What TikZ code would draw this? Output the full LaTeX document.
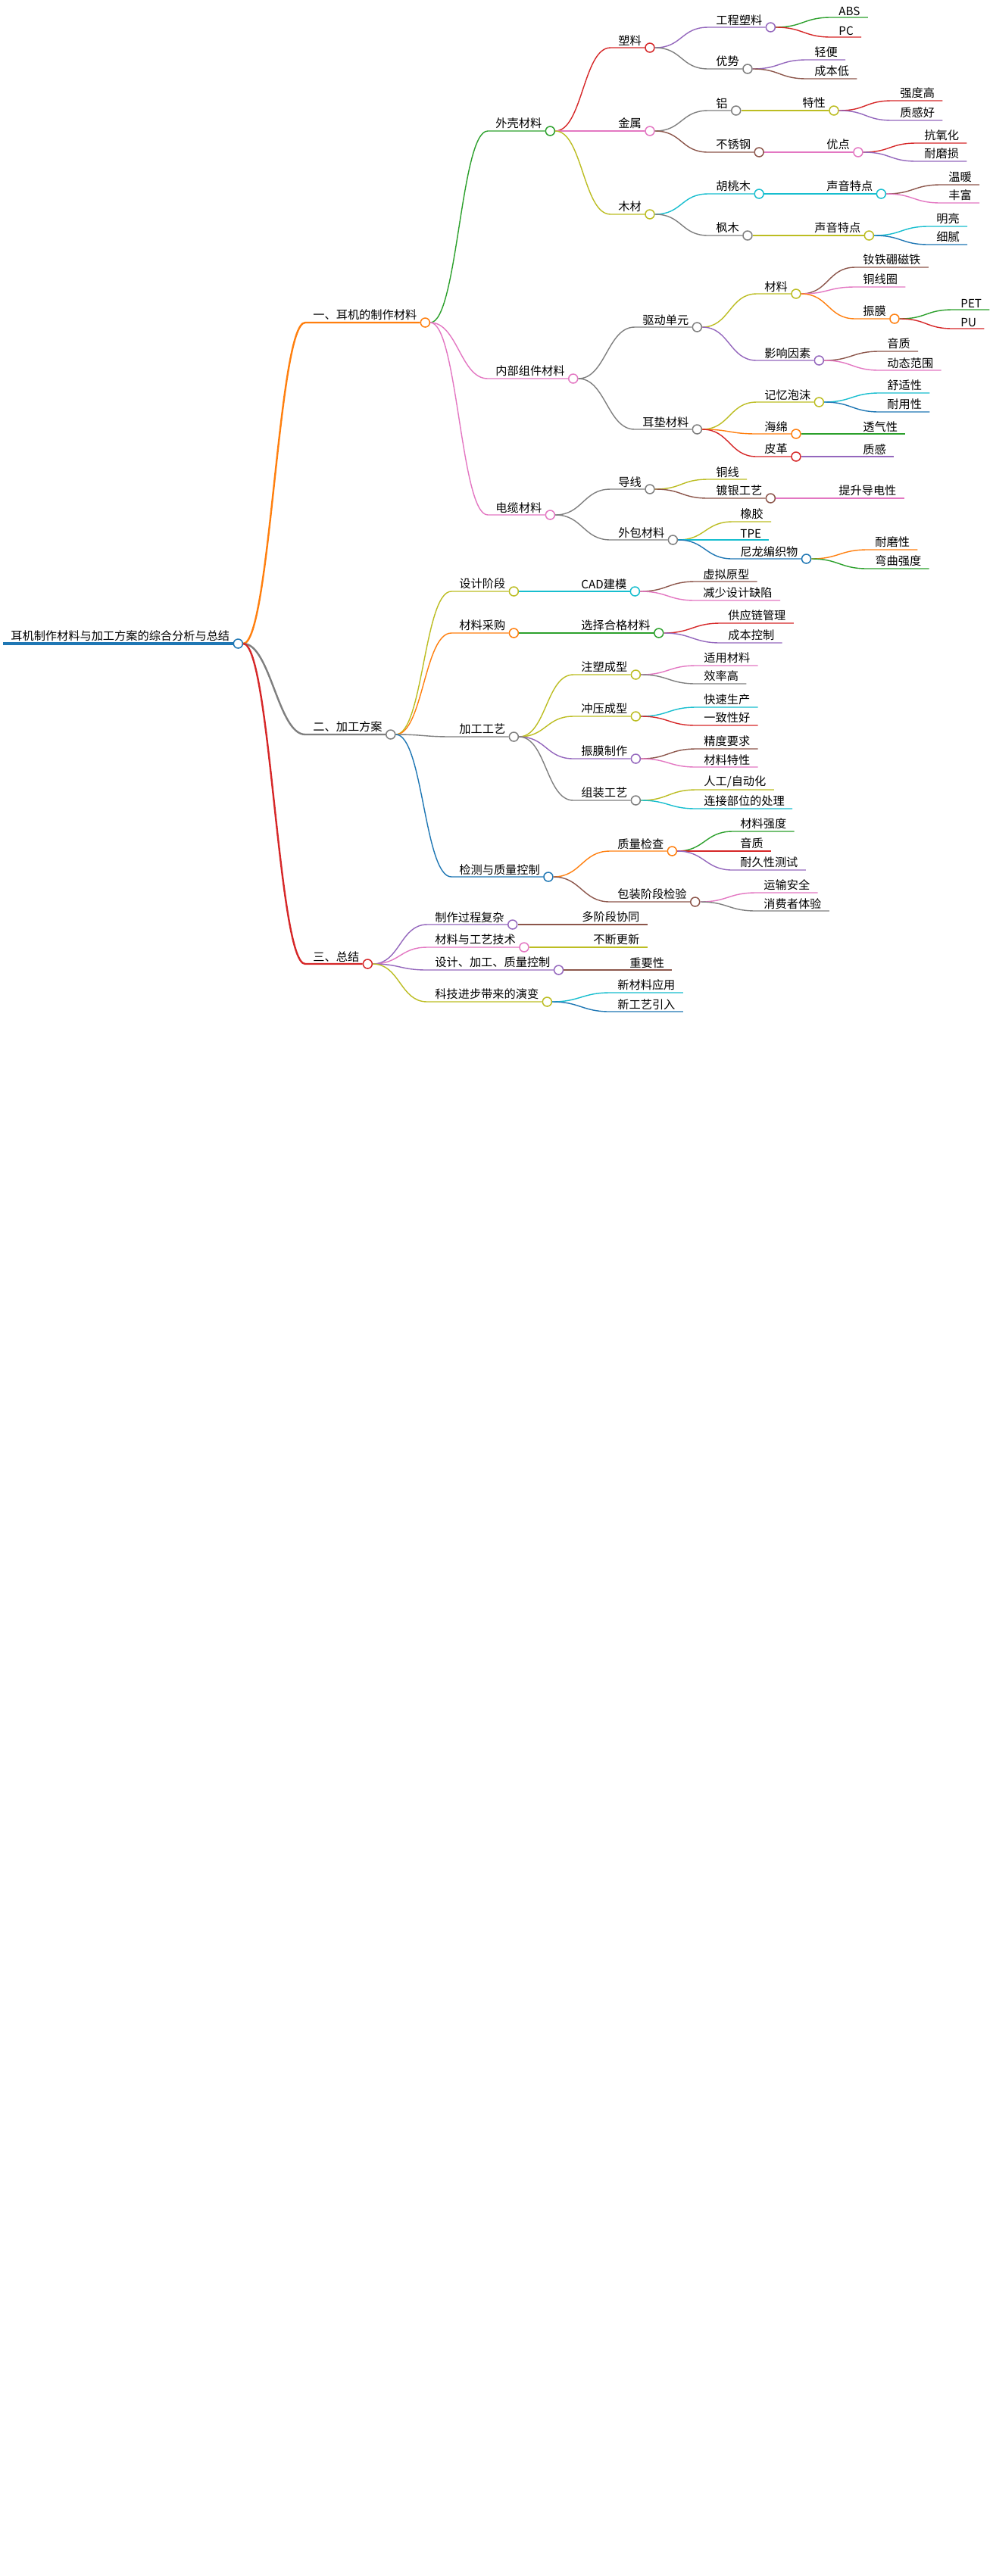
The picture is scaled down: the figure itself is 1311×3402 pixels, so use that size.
\documentclass[tikz,border=0pt]{standalone}
\usepackage{fontspec}
\setmainfont{Noto Sans CJK SC}
\usepackage{tikz}
\usetikzlibrary{positioning}

\definecolor{cblue}{HTML}{1F77B4}
\definecolor{corange}{HTML}{FF7F0E}
\definecolor{cgreen}{HTML}{2CA02C}
\definecolor{cred}{HTML}{D62728}
\definecolor{cpurple}{HTML}{9467BD}
\definecolor{cbrown}{HTML}{8C564B}
\definecolor{cpink}{HTML}{E377C2}
\definecolor{cgray}{HTML}{7F7F7F}
\definecolor{colive}{HTML}{BCBD22}
\definecolor{ccyan}{HTML}{17BECF}

\tikzset{
  txt/.style={anchor=south west, inner xsep=5pt, inner ysep=1.2pt, font=\fontsize{7.6pt}{9pt}\selectfont},
  knob/.style={circle, draw=#1, fill=white, line width=0.75pt, minimum size=6pt, inner sep=0pt},
  lk/.style={draw=#1, line width=0.7pt},
  lkone/.style={draw=#1, line width=1.2pt},
  mmlink/.style={to path={.. controls +(36,0) and +(-36,0) .. (\tikztotarget)}}
}

\begin{document}
\begin{tikzpicture}[x=0.5pt, y=-0.5pt]
				\fill[white] (0,0) rectangle (1311,3402);
				\useasboundingbox (0,0) rectangle (1311,3402);

				% root
				\node[txt] (r) at (4,850) {耳机制作材料与加工方案的综合分析与总结};
				\node[knob=cblue, right=-3pt of r.south east] (ro) {};
				\draw[cblue, line width=2.2pt] (r.south west) -- (ro);

				% main branches
				\node[txt] (m1) at (403,426) {一、耳机的制作材料};
				\node[knob=corange, right=-3pt of m1.south east] (m1o) {};
				\node[txt] (m2) at (403,970) {二、加工方案};
				\node[knob=cgray, right=-3pt of m2.south east] (m2o) {};
				\node[txt] (m3) at (403,1273) {三、总结};
				\node[knob=cred, right=-3pt of m3.south east] (m3o) {};
				\draw[lkone=corange] (ro.east) to[mmlink] (m1.south west) -- (m1o);
				\draw[lkone=cgray] (ro.east) to[mmlink] (m2.south west) -- (m2o);
				\draw[lkone=cred] (ro.east) to[mmlink] (m3.south west) -- (m3o);

				% materials
				\node[txt] (sh) at (644,173) {外壳材料};
				\node[knob=cgreen, right=-3pt of sh.south east] (sho) {};
				\node[txt] (ic) at (644,500) {内部组件材料};
				\node[knob=cpink, right=-3pt of ic.south east] (ico) {};
				\node[txt] (ca) at (644,680) {电缆材料};
				\node[knob=cpink, right=-3pt of ca.south east] (cao) {};
				\draw[lk=cgreen] (m1o.east) to[mmlink] (sh.south west) -- (sho);
				\draw[lk=cpink] (m1o.east) to[mmlink] (ic.south west) -- (ico);
				\draw[lk=cpink] (m1o.east) to[mmlink] (ca.south west) -- (cao);

				% shell
				\node[txt] (pl) at (806,63) {塑料};
				\node[knob=cred, right=-3pt of pl.south east] (plo) {};
				\node[txt] (me) at (806,173) {金属};
				\node[knob=cpink, right=-3pt of me.south east] (meo) {};
				\node[txt] (wd) at (806,283) {木材};
				\node[knob=colive, right=-3pt of wd.south east] (wdo) {};
				\draw[lk=cred] (sho.east) to[mmlink] (pl.south west) -- (plo);
				\draw[lk=cpink] (sho.east) to[mmlink] (me.south west) -- (meo);
				\draw[lk=colive] (sho.east) to[mmlink] (wd.south west) -- (wdo);

				\node[txt] (ep) at (935,36) {工程塑料};
				\node[knob=cpurple, right=-3pt of ep.south east] (epo) {};
				\node[txt] (ad) at (935,91) {优势};
				\node[knob=cgray, right=-3pt of ad.south east] (ado) {};
				\draw[lk=cpurple] (plo.east) to[mmlink] (ep.south west) -- (epo);
				\draw[lk=cgray] (plo.east) to[mmlink] (ad.south west) -- (ado);
				\node[txt] (abs) at (1097,23) {ABS};
				\node[txt] (pc) at (1097,49) {PC};
				\node[txt] (lt) at (1065,79) {轻便};
				\node[txt] (lc) at (1065,104) {成本低};
				\draw[lk=cgreen] (epo.east) to[mmlink] (abs.south west) -- (abs.south east);
				\draw[lk=cred] (epo.east) to[mmlink] (pc.south west) -- (pc.south east);
				\draw[lk=cpurple] (ado.east) to[mmlink] (lt.south west) -- (lt.south east);
				\draw[lk=cbrown] (ado.east) to[mmlink] (lc.south west) -- (lc.south east);

				\node[txt] (al) at (935,146) {铝};
				\node[knob=cgray, right=-3pt of al.south east] (alo) {};
				\node[txt] (alf) at (1049,146) {特性};
				\node[knob=colive, right=-3pt of alf.south east] (alfo) {};
				\node[txt] (alf1) at (1178,133) {强度高};
				\node[txt] (alf2) at (1178,159) {质感好};
				\draw[lk=cgray] (meo.east) to[mmlink] (al.south west) -- (alo);
				\draw[lk=colive] (alo.east) to[mmlink] (alf.south west) -- (alfo);
				\draw[lk=cred] (alfo.east) to[mmlink] (alf1.south west) -- (alf1.south east);
				\draw[lk=cpurple] (alfo.east) to[mmlink] (alf2.south west) -- (alf2.south east);

				\node[txt] (ss) at (935,201) {不锈钢};
				\node[knob=cbrown, right=-3pt of ss.south east] (sso) {};
				\node[txt] (ssf) at (1081,201) {优点};
				\node[knob=cpink, right=-3pt of ssf.south east] (ssfo) {};
				\node[txt] (ssf1) at (1210,189) {抗氧化};
				\node[txt] (ssf2) at (1210,213) {耐磨损};
				\draw[lk=cbrown] (meo.east) to[mmlink] (ss.south west) -- (sso);
				\draw[lk=cpink] (sso.east) to[mmlink] (ssf.south west) -- (ssfo);
				\draw[lk=cred] (ssfo.east) to[mmlink] (ssf1.south west) -- (ssf1.south east);
				\draw[lk=cpurple] (ssfo.east) to[mmlink] (ssf2.south west) -- (ssf2.south east);

				\node[txt] (wn) at (935,256) {胡桃木};
				\node[knob=ccyan, right=-3pt of wn.south east] (wno) {};
				\node[txt] (wns) at (1081,256) {声音特点};
				\node[knob=ccyan, right=-3pt of wns.south east] (wnso) {};
				\node[txt] (wns1) at (1242,244) {温暖};
				\node[txt] (wns2) at (1242,268) {丰富};
				\draw[lk=ccyan] (wdo.east) to[mmlink] (wn.south west) -- (wno);
				\draw[lk=ccyan] (wno.east) to[mmlink] (wns.south west) -- (wnso);
				\draw[lk=cbrown] (wnso.east) to[mmlink] (wns1.south west) -- (wns1.south east);
				\draw[lk=cpink] (wnso.east) to[mmlink] (wns2.south west) -- (wns2.south east);

				\node[txt] (mp) at (935,311) {枫木};
				\node[knob=cgray, right=-3pt of mp.south east] (mpo) {};
				\node[txt] (mps) at (1065,311) {声音特点};
				\node[knob=colive, right=-3pt of mps.south east] (mpso) {};
				\node[txt] (mps1) at (1226,299) {明亮};
				\node[txt] (mps2) at (1226,323) {细腻};
				\draw[lk=cgray] (wdo.east) to[mmlink] (mp.south west) -- (mpo);
				\draw[lk=colive] (mpo.east) to[mmlink] (mps.south west) -- (mpso);
				\draw[lk=ccyan] (mpso.east) to[mmlink] (mps1.south west) -- (mps1.south east);
				\draw[lk=cblue] (mpso.east) to[mmlink] (mps2.south west) -- (mps2.south east);

				% inner parts
				\node[txt] (dr) at (838,432) {驱动单元};
				\node[knob=cgray, right=-3pt of dr.south east] (dro) {};
				\node[txt] (cu) at (838,567) {耳垫材料};
				\node[knob=cgray, right=-3pt of cu.south east] (cuo) {};
				\draw[lk=cgray] (ico.east) to[mmlink] (dr.south west) -- (dro);
				\draw[lk=cgray] (ico.east) to[mmlink] (cu.south west) -- (cuo);

				\node[txt] (drm) at (999,388) {材料};
				\node[knob=colive, right=-3pt of drm.south east] (drmo) {};
				\node[txt] (drf) at (999,476) {影响因素};
				\node[knob=cpurple, right=-3pt of drf.south east] (drfo) {};
				\draw[lk=colive] (dro.east) to[mmlink] (drm.south west) -- (drmo);
				\draw[lk=cpurple] (dro.east) to[mmlink] (drf.south west) -- (drfo);
				\node[txt] (drm1) at (1129,353) {钕铁硼磁铁};
				\node[txt] (drm2) at (1129,379) {铜线圈};
				\node[txt] (dia) at (1129,421) {振膜};
				\node[knob=corange, right=-3pt of dia.south east] (diao) {};
				\draw[lk=cbrown] (drmo.east) to[mmlink] (drm1.south west) -- (drm1.south east);
				\draw[lk=cpink] (drmo.east) to[mmlink] (drm2.south west) -- (drm2.south east);
				\draw[lk=corange] (drmo.east) to[mmlink] (dia.south west) -- (diao);
				\node[txt] (dia1) at (1258,409) {PET};
				\node[txt] (dia2) at (1258,434) {PU};
				\draw[lk=cgreen] (diao.east) to[mmlink] (dia1.south west) -- (dia1.south east);
				\draw[lk=cred] (diao.east) to[mmlink] (dia2.south west) -- (dia2.south east);
				\node[txt] (drf1) at (1161,464) {音质};
				\node[txt] (drf2) at (1161,489) {动态范围};
				\draw[lk=cbrown] (drfo.east) to[mmlink] (drf1.south west) -- (drf1.south east);
				\draw[lk=cpink] (drfo.east) to[mmlink] (drf2.south west) -- (drf2.south east);

				\node[txt] (cu1) at (999,531) {记忆泡沫};
				\node[knob=colive, right=-3pt of cu1.south east] (cu1o) {};
				\node[txt] (cu2) at (999,573) {海绵};
				\node[knob=corange, right=-3pt of cu2.south east] (cu2o) {};
				\node[txt] (cu3) at (999,603) {皮革};
				\node[knob=cred, right=-3pt of cu3.south east] (cu3o) {};
				\draw[lk=colive] (cuo.east) to[mmlink] (cu1.south west) -- (cu1o);
				\draw[lk=corange] (cuo.east) to[mmlink] (cu2.south west) -- (cu2o);
				\draw[lk=cred] (cuo.east) to[mmlink] (cu3.south west) -- (cu3o);
				\node[txt] (cu1a) at (1161,519) {舒适性};
				\node[txt] (cu1b) at (1161,544) {耐用性};
				\node[txt] (cu2a) at (1129,573) {透气性};
				\node[txt] (cu3a) at (1129,603) {质感};
				\draw[lk=ccyan] (cu1o.east) to[mmlink] (cu1a.south west) -- (cu1a.south east);
				\draw[lk=cblue] (cu1o.east) to[mmlink] (cu1b.south west) -- (cu1b.south east);
				\draw[lk=cgreen] (cu2o.east) to[mmlink] (cu2a.south west) -- (cu2a.south east);
				\draw[lk=cpurple] (cu3o.east) to[mmlink] (cu3a.south west) -- (cu3a.south east);

				% cable
				\node[txt] (wi) at (806,646) {导线};
				\node[knob=cgray, right=-3pt of wi.south east] (wio) {};
				\node[txt] (jk) at (806,713) {外包材料};
				\node[knob=cgray, right=-3pt of jk.south east] (jko) {};
				\draw[lk=cgray] (cao.east) to[mmlink] (wi.south west) -- (wio);
				\draw[lk=cgray] (cao.east) to[mmlink] (jk.south west) -- (jko);
				\node[txt] (wi1) at (935,633) {铜线};
				\node[txt] (wi2) at (935,658) {镀银工艺};
				\node[knob=cbrown, right=-3pt of wi2.south east] (wi2o) {};
				\node[txt] (wi2a) at (1097,658) {提升导电性};
				\draw[lk=colive] (wio.east) to[mmlink] (wi1.south west) -- (wi1.south east);
				\draw[lk=cbrown] (wio.east) to[mmlink] (wi2.south west) -- (wi2o);
				\draw[lk=cpink] (wi2o.east) to[mmlink] (wi2a.south west) -- (wi2a.south east);
				\node[txt] (jk1) at (967,689) {橡胶};
				\node[txt] (jk2) at (967,713) {TPE};
				\node[txt] (jk3) at (967,738) {尼龙编织物};
				\node[knob=cblue, right=-3pt of jk3.south east] (jk3o) {};
				\node[txt] (jk3a) at (1145,726) {耐磨性};
				\node[txt] (jk3b) at (1145,751) {弯曲强度};
				\draw[lk=colive] (jko.east) to[mmlink] (jk1.south west) -- (jk1.south east);
				\draw[lk=ccyan] (jko.east) to[mmlink] (jk2.south west) -- (jk2.south east);
				\draw[lk=cblue] (jko.east) to[mmlink] (jk3.south west) -- (jk3o);
				\draw[lk=corange] (jk3o.east) to[mmlink] (jk3a.south west) -- (jk3a.south east);
				\draw[lk=cgreen] (jk3o.east) to[mmlink] (jk3b.south west) -- (jk3b.south east);

				% processing
				\node[txt] (ds) at (596,781) {设计阶段};
				\node[knob=colive, right=-3pt of ds.south east] (dso) {};
				\node[txt] (pu) at (596,836) {材料采购};
				\node[knob=corange, right=-3pt of pu.south east] (puo) {};
				\node[txt] (pr) at (596,973) {加工工艺};
				\node[knob=cgray, right=-3pt of pr.south east] (pro) {};
				\node[txt] (qc) at (596,1158) {检测与质量控制};
				\node[knob=cblue, right=-3pt of qc.south east] (qco) {};
				\draw[lk=colive] (m2o.east) to[mmlink] (ds.south west) -- (dso);
				\draw[lk=corange] (m2o.east) to[mmlink] (pu.south west) -- (puo);
				\draw[lk=cgray] (m2o.east) to[mmlink] (pr.south west) -- (pro);
				\draw[lk=cblue] (m2o.east) to[mmlink] (qc.south west) -- (qco);

				\node[txt] (cad) at (757,781) {CAD建模};
				\node[knob=ccyan, right=-3pt of cad.south east] (cado) {};
				\node[txt] (cad1) at (918,768) {虚拟原型};
				\node[txt] (cad2) at (918,793) {减少设计缺陷};
				\draw[lk=ccyan] (dso.east) to[mmlink] (cad.south west) -- (cado);
				\draw[lk=cbrown] (cado.east) to[mmlink] (cad1.south west) -- (cad1.south east);
				\draw[lk=cpink] (cado.east) to[mmlink] (cad2.south west) -- (cad2.south east);

				\node[txt] (sel) at (757,836) {选择合格材料};
				\node[knob=cgreen, right=-3pt of sel.south east] (selo) {};
				\node[txt] (sel1) at (951,823) {供应链管理};
				\node[txt] (sel2) at (951,849) {成本控制};
				\draw[lk=cgreen] (puo.east) to[mmlink] (sel.south west) -- (selo);
				\draw[lk=cred] (selo.east) to[mmlink] (sel1.south west) -- (sel1.south east);
				\draw[lk=cpurple] (selo.east) to[mmlink] (sel2.south west) -- (sel2.south east);

				\node[txt] (im) at (757,891) {注塑成型};
				\node[knob=colive, right=-3pt of im.south east] (imo) {};
				\node[txt] (st) at (757,946) {冲压成型};
				\node[knob=colive, right=-3pt of st.south east] (sto) {};
				\node[txt] (dm) at (757,1002) {振膜制作};
				\node[knob=cpurple, right=-3pt of dm.south east] (dmo) {};
				\node[txt] (as) at (757,1057) {组装工艺};
				\node[knob=cgray, right=-3pt of as.south east] (aso) {};
				\draw[lk=colive] (pro.east) to[mmlink] (im.south west) -- (imo);
				\draw[lk=colive] (pro.east) to[mmlink] (st.south west) -- (sto);
				\draw[lk=cpurple] (pro.east) to[mmlink] (dm.south west) -- (dmo);
				\draw[lk=cgray] (pro.east) to[mmlink] (as.south west) -- (aso);
				\node[txt] (im1) at (919,879) {适用材料};
				\node[txt] (im2) at (919,903) {效率高};
				\node[txt] (st1) at (919,934) {快速生产};
				\node[txt] (st2) at (919,958) {一致性好};
				\node[txt] (dm1) at (919,989) {精度要求};
				\node[txt] (dm2) at (919,1013) {材料特性};
				\node[txt] (as1) at (919,1043) {人工/自动化};
				\node[txt] (as2) at (919,1068) {连接部位的处理};
				\draw[lk=cpink] (imo.east) to[mmlink] (im1.south west) -- (im1.south east);
				\draw[lk=cgray] (imo.east) to[mmlink] (im2.south west) -- (im2.south east);
				\draw[lk=ccyan] (sto.east) to[mmlink] (st1.south west) -- (st1.south east);
				\draw[lk=cred] (sto.east) to[mmlink] (st2.south west) -- (st2.south east);
				\draw[lk=cbrown] (dmo.east) to[mmlink] (dm1.south west) -- (dm1.south east);
				\draw[lk=cpink] (dmo.east) to[mmlink] (dm2.south west) -- (dm2.south east);
				\draw[lk=colive] (aso.east) to[mmlink] (as1.south west) -- (as1.south east);
				\draw[lk=ccyan] (aso.east) to[mmlink] (as2.south west) -- (as2.south east);

				\node[txt] (qi) at (805,1124) {质量检查};
				\node[knob=corange, right=-3pt of qi.south east] (qio) {};
				\node[txt] (pk) at (805,1191) {包装阶段检验};
				\node[knob=cbrown, right=-3pt of pk.south east] (pko) {};
				\draw[lk=corange] (qco.east) to[mmlink] (qi.south west) -- (qio);
				\draw[lk=cbrown] (qco.east) to[mmlink] (pk.south west) -- (pko);
				\node[txt] (qi1) at (967,1098) {材料强度};
				\node[txt] (qi2) at (967,1124) {音质};
				\node[txt] (qi3) at (967,1149) {耐久性测试};
				\node[txt] (pk1) at (998,1179) {运输安全};
				\node[txt] (pk2) at (998,1203) {消费者体验};
				\draw[lk=cgreen] (qio.east) to[mmlink] (qi1.south west) -- (qi1.south east);
				\draw[lk=cred] (qio.east) to[mmlink] (qi2.south west) -- (qi2.south east);
				\draw[lk=cpurple] (qio.east) to[mmlink] (qi3.south west) -- (qi3.south east);
				\draw[lk=cpink] (pko.east) to[mmlink] (pk1.south west) -- (pk1.south east);
				\draw[lk=cgray] (pko.east) to[mmlink] (pk2.south west) -- (pk2.south east);

				% summary
				\node[txt] (s1) at (564,1221) {制作过程复杂};
				\node[knob=cpurple, right=-3pt of s1.south east] (s1o) {};
				\node[txt] (s2) at (564,1251) {材料与工艺技术};
				\node[knob=cpink, right=-3pt of s2.south east] (s2o) {};
				\node[txt] (s3) at (564,1281) {设计、加工、质量控制};
				\node[knob=cpurple, right=-3pt of s3.south east] (s3o) {};
				\node[txt] (s4) at (564,1323) {科技进步带来的演变};
				\node[knob=colive, right=-3pt of s4.south east] (s4o) {};
				\draw[lk=cpurple] (m3o.east) to[mmlink] (s1.south west) -- (s1o);
				\draw[lk=cpink] (m3o.east) to[mmlink] (s2.south west) -- (s2o);
				\draw[lk=cpurple] (m3o.east) to[mmlink] (s3.south west) -- (s3o);
				\draw[lk=colive] (m3o.east) to[mmlink] (s4.south west) -- (s4o);
				\node[txt] (s1a) at (758,1221) {多阶段协同};
				\node[txt] (s2a) at (773,1251) {不断更新};
				\node[txt] (s3a) at (821,1281) {重要性};
				\node[txt] (s4a) at (805,1311) {新材料应用};
				\node[txt] (s4b) at (805,1336) {新工艺引入};
				\draw[lk=cbrown] (s1o.east) to[mmlink] (s1a.south west) -- (s1a.south east);
				\draw[lk=colive] (s2o.east) to[mmlink] (s2a.south west) -- (s2a.south east);
				\draw[lk=cbrown] (s3o.east) to[mmlink] (s3a.south west) -- (s3a.south east);
				\draw[lk=ccyan] (s4o.east) to[mmlink] (s4a.south west) -- (s4a.south east);
				\draw[lk=cblue] (s4o.east) to[mmlink] (s4b.south west) -- (s4b.south east);
			\end{tikzpicture}
\end{document}
